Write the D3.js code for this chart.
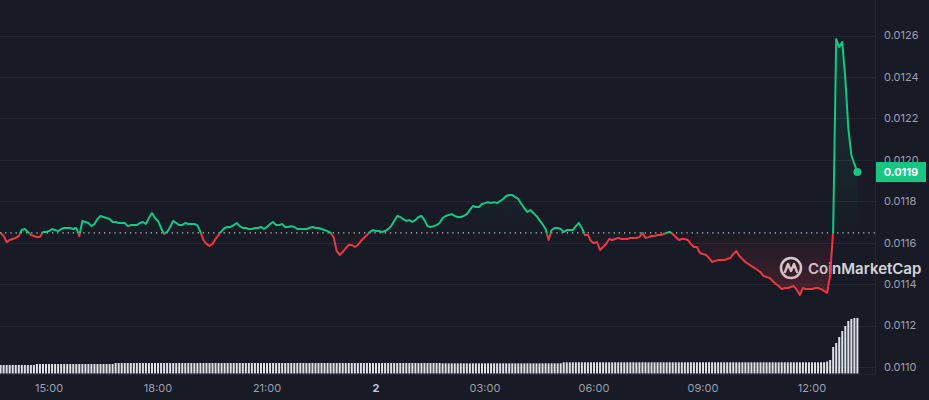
<!DOCTYPE html>
<html>
<head>
<meta charset="utf-8">
<script src="https://cdn.jsdelivr.net/npm/d3@7/dist/d3.min.js"></script>
<style>
html,body{margin:0;padding:0;background:#181a25;}
svg{display:block;}
text{font-family:Inter,"Noto Sans",sans-serif;}
</style>
</head>
<body>
<svg id="chart" width="929" height="400"></svg>
<script>
// ---------- DATA ----------
const startTime = "2024-08-01T13:40:00";   // first sample
const stepMinutes = 5;                       // sample interval
const openPrice = 0.011647;                  // reference (dotted) line

const prices = [
0.011647,0.011632,0.011603,0.011613,0.011618,0.011623,0.011632,0.011661,0.011666,0.011652,
0.011637,0.011632,0.011627,0.011627,0.011652,0.011652,0.011656,0.011666,0.011661,0.011656,
0.011666,0.011671,0.011671,0.011671,0.011666,0.011671,0.011632,0.011705,0.011700,0.011695,
0.011680,0.011690,0.011714,0.011729,0.011724,0.011719,0.011714,0.011700,0.011700,0.011695,
0.011695,0.011695,0.011680,0.011685,0.011685,0.011685,0.011695,0.011700,0.011690,0.011719,
0.011743,0.011719,0.011705,0.011671,0.011642,0.011652,0.011676,0.011705,0.011695,0.011685,
0.011685,0.011695,0.011690,0.011690,0.011690,0.011685,0.011652,0.011613,0.011594,0.011584,
0.011594,0.011618,0.011637,0.011656,0.011671,0.011676,0.011676,0.011685,0.011695,0.011680,
0.011671,0.011671,0.011666,0.011666,0.011671,0.011671,0.011676,0.011666,0.011676,0.011690,
0.011700,0.011685,0.011685,0.011690,0.011676,0.011676,0.011680,0.011676,0.011666,0.011666,
0.011666,0.011666,0.011671,0.011676,0.011671,0.011671,0.011666,0.011661,0.011656,0.011647,
0.011627,0.011560,0.011541,0.011555,0.011574,0.011589,0.011589,0.011579,0.011589,0.011608,
0.011623,0.011637,0.011652,0.011661,0.011656,0.011656,0.011652,0.011656,0.011666,0.011680,
0.011705,0.011729,0.011724,0.011714,0.011705,0.011709,0.011700,0.011709,0.011724,0.011729,
0.011709,0.011680,0.011676,0.011680,0.011685,0.011695,0.011719,0.011729,0.011734,0.011738,
0.011729,0.011724,0.011724,0.011729,0.011738,0.011758,0.011777,0.011772,0.011772,0.011787,
0.011791,0.011796,0.011791,0.011796,0.011791,0.011801,0.011811,0.011825,0.011830,0.011830,
0.011820,0.011811,0.011787,0.011767,0.011748,0.011758,0.011743,0.011729,0.011709,0.011690,
0.011666,0.011613,0.011661,0.011671,0.011671,0.011666,0.011652,0.011661,0.011661,0.011661,
0.011680,0.011695,0.011671,0.011637,0.011637,0.011608,0.011598,0.011603,0.011565,0.011579,
0.011594,0.011618,0.011613,0.011618,0.011623,0.011618,0.011618,0.011618,0.011623,0.011623,
0.011623,0.011627,0.011647,0.011623,0.011627,0.011632,0.011632,0.011637,0.011637,0.011642,
0.011647,0.011652,0.011642,0.011627,0.011613,0.011618,0.011618,0.011613,0.011594,0.011579,
0.011579,0.011550,0.011545,0.011541,0.011526,0.011507,0.011512,0.011516,0.011516,0.011516,
0.011521,0.011526,0.011545,0.011560,0.011536,0.011521,0.011507,0.011497,0.011487,0.011478,
0.011468,0.011458,0.011439,0.011434,0.011430,0.011415,0.011401,0.011391,0.011376,0.011381,
0.011381,0.011386,0.011391,0.011372,0.011348,0.011381,0.011376,0.011376,0.011376,0.011381,
0.011381,0.011376,0.011367,0.011357,0.011444,0.011661,0.012583,0.012544,0.012568,0.012395,
0.012153,0.012023,0.011980,0.011941
];

// rolling volume, millions USD
const volumes = [
1.70,1.70,1.70,1.70,1.70,1.70,1.70,1.70,1.70,1.70,1.70,1.70,
1.90,1.90,1.90,1.90,1.90,1.90,1.90,1.90,1.90,1.90,1.90,1.90,1.90,
1.90,1.90,1.90,1.90,1.90,1.90,1.90,1.90,1.90,1.90,1.90,1.90,1.90,
2.10,2.10,2.10,2.10,2.10,2.10,2.10,2.10,2.10,2.10,2.10,2.10,2.10,2.10,2.10,2.10,2.10,2.10,
2.10,2.10,2.10,2.10,2.10,2.10,2.10,2.10,2.10,2.10,2.10,2.10,2.10,2.10,2.10,2.10,2.10,2.10,
2.10,2.10,2.10,2.10,2.10,2.10,2.10,2.10,2.10,2.10,2.10,2.10,2.10,2.10,2.10,2.10,2.10,2.10,
2.10,2.10,2.10,2.10,2.10,2.10,2.10,2.10,2.10,2.10,2.10,2.10,2.10,2.10,2.10,2.10,2.10,2.10,
2.10,2.10,2.10,2.10,2.10,2.10,2.10,2.10,2.10,2.10,2.10,2.10,2.10,2.10,2.10,2.10,2.10,2.10,
2.10,2.10,2.10,2.10,2.10,2.10,2.10,2.10,2.10,2.10,2.10,2.10,2.10,2.10,2.10,2.10,2.10,2.10,
2.04,2.04,2.04,2.04,2.04,2.04,2.04,2.04,2.04,2.04,2.04,2.04,2.04,2.04,2.04,2.04,2.04,2.04,2.04,2.04,
2.04,2.04,2.04,2.04,2.04,2.04,2.04,2.04,2.04,2.04,2.04,2.04,2.04,2.04,2.04,2.04,2.04,2.04,2.04,2.04,
2.24,2.24,2.24,2.24,2.24,2.24,2.24,2.24,2.24,2.24,2.24,2.24,2.24,2.24,2.24,2.24,2.24,2.24,2.24,2.24,
2.24,2.24,2.24,2.24,2.24,2.24,2.24,2.24,2.24,2.24,2.24,2.24,2.24,2.24,2.24,2.24,2.24,2.24,2.24,2.24,
2.24,2.24,2.24,2.24,2.24,2.24,2.24,2.24,2.24,2.24,2.24,2.24,2.24,2.24,2.24,2.24,2.24,2.24,2.24,2.24,
2.24,2.24,2.24,2.24,2.24,2.24,2.24,2.24,2.24,2.24,2.24,2.24,2.24,2.24,2.24,2.24,2.24,2.24,2.24,2.24,
2.24,2.24,2.24,2.24,2.24,2.24,2.24,
2.40,2.70,5.30,6.10,7.30,8.50,9.50,10.50,10.90,11.10,11.10
];

const yTicks = [0.0110,0.0112,0.0114,0.0116,0.0118,0.0120,0.0122,0.0124,0.0126];
const xTickTimes = ["2024-08-01T15:00","2024-08-01T18:00","2024-08-01T21:00","2024-08-02T00:00",
                    "2024-08-02T03:00","2024-08-02T06:00","2024-08-02T09:00","2024-08-02T12:00"];
const xTickLabels = ["15:00","18:00","21:00","2","03:00","06:00","09:00","12:00"];
const lastLabel = "0.0119";
const brand = "CoinMarketCap";

// ---------- CHART ----------
const W = 929, H = 400;
const plotRight = 875, volBase = 373.5;
const green = "#16c784", red = "#ea3943";

const t0 = new Date(startTime);
const data = prices.map((p, i) => ({
  t: new Date(t0.getTime() + i * stepMinutes * 60000),
  p: p, v: volumes[i]
}));
const tEnd = data[data.length - 1].t;

const x = d3.scaleTime().domain([t0, tEnd]).range([0.6, 857.4]);
const y = d3.scaleLinear().domain([0.0110, 0.0126]).range([367, 35.5]);
const yv = d3.scaleLinear().domain([0, 12]).range([volBase, volBase - 60]);

const svg = d3.select("#chart");
svg.append("rect").attr("width", W).attr("height", H).attr("fill", "#181a25");

const defs = svg.append("defs");
const yBase = y(openPrice);
const pMax = d3.max(prices), pMin = d3.min(prices);

const gG = defs.append("linearGradient").attr("id", "gGreen")
  .attr("gradientUnits", "userSpaceOnUse").attr("x1", 0).attr("x2", 0)
  .attr("y1", y(pMax)).attr("y2", yBase);
gG.append("stop").attr("offset", 0).attr("stop-color", green).attr("stop-opacity", 0.16);
gG.append("stop").attr("offset", 1).attr("stop-color", green).attr("stop-opacity", 0.01);
const gR = defs.append("linearGradient").attr("id", "gRed")
  .attr("gradientUnits", "userSpaceOnUse").attr("x1", 0).attr("x2", 0)
  .attr("y1", yBase).attr("y2", y(pMin));
gR.append("stop").attr("offset", 0).attr("stop-color", red).attr("stop-opacity", 0.01);
gR.append("stop").attr("offset", 1).attr("stop-color", red).attr("stop-opacity", 0.22);

defs.append("clipPath").attr("id", "clipUp").append("rect")
  .attr("x", 0).attr("y", 0).attr("width", plotRight).attr("height", yBase);
defs.append("clipPath").attr("id", "clipDown").append("rect")
  .attr("x", 0).attr("y", yBase).attr("width", plotRight).attr("height", H - yBase);

// grid
svg.append("g").selectAll("line").data(yTicks).join("line")
  .attr("x1", 0).attr("x2", plotRight)
  .attr("y1", d => Math.round(y(d)) + 0.5).attr("y2", d => Math.round(y(d)) + 0.5)
  .attr("stroke", "#242733").attr("stroke-width", 1);

// right axis line
svg.append("line").attr("x1", plotRight + 0.5).attr("x2", plotRight + 0.5)
  .attr("y1", 0).attr("y2", 374).attr("stroke", "#242733");
svg.append("line").attr("x1", 0).attr("x2", plotRight)
  .attr("y1", 374.5).attr("y2", 374.5).attr("stroke", "#242733");

// volume bars
svg.append("g").selectAll("rect").data(data).join("rect")
  .attr("x", d => x(d.t) - 1)
  .attr("width", 2)
  .attr("y", d => yv(d.v))
  .attr("height", d => volBase - yv(d.v))
  .attr("fill", "#dde0e8");

// watermark
const wm = svg.append("g").attr("transform", "translate(791,268)").attr("opacity", 0.88);
wm.append("circle").attr("r", 10).attr("fill", "none").attr("stroke", "#eceef2").attr("stroke-width", 2.6);
wm.append("path").attr("d", "M-6,4 L-3,-4 L0,3 L3,-4 L6,4")
  .attr("fill", "none").attr("stroke", "#eceef2").attr("stroke-width", 2.4)
  .attr("stroke-linejoin", "round").attr("stroke-linecap", "round");
wm.append("text").attr("x", 17).attr("y", 5.5).attr("font-size", 15).attr("font-weight", 600)
  .attr("fill", "#eceef2").text(brand);

// areas
const area = d3.area().x(d => x(d.t)).y0(yBase).y1(d => y(d.p));
svg.append("path").datum(data).attr("d", area).attr("fill", "url(#gGreen)").attr("clip-path", "url(#clipUp)");
svg.append("path").datum(data).attr("d", area).attr("fill", "url(#gRed)").attr("clip-path", "url(#clipDown)");

// dotted open line
svg.append("line").attr("x1", 0).attr("x2", plotRight)
  .attr("y1", yBase).attr("y2", yBase)
  .attr("stroke", "#c8ccd6").attr("stroke-width", 1.2).attr("stroke-dasharray", "1.2,4");

// price line
const line = d3.line().x(d => x(d.t)).y(d => y(d.p));
svg.append("path").datum(data).attr("d", line).attr("fill", "none")
  .attr("stroke", green).attr("stroke-width", 2).attr("stroke-linejoin", "round")
  .attr("clip-path", "url(#clipUp)");
svg.append("path").datum(data).attr("d", line).attr("fill", "none")
  .attr("stroke", red).attr("stroke-width", 2).attr("stroke-linejoin", "round")
  .attr("clip-path", "url(#clipDown)");

// last point
const last = data[data.length - 1];
svg.append("circle").attr("cx", x(last.t)).attr("cy", y(last.p)).attr("r", 4).attr("fill", green);

// y axis labels
svg.append("g").selectAll("text").data(yTicks).join("text")
  .attr("x", 884).attr("y", d => y(d)).attr("dy", "0.35em")
  .attr("font-size", 11).attr("fill", "#9aa0b1")
  .text(d => d.toFixed(4));

// last price badge
svg.append("rect").attr("x", 876).attr("y", y(last.p) - 10).attr("width", 50).attr("height", 20)
  .attr("fill", green);
svg.append("text").attr("x", 901).attr("y", y(last.p)).attr("dy", "0.35em")
  .attr("text-anchor", "middle").attr("font-size", 11).attr("font-weight", 700)
  .attr("fill", "#ffffff").text(lastLabel);

// x axis labels
svg.append("g").selectAll("text").data(xTickTimes).join("text")
  .attr("x", d => x(new Date(d))).attr("y", 388).attr("dy", "0.35em")
  .attr("text-anchor", "middle").attr("font-size", 11)
  .attr("font-weight", (d, i) => xTickLabels[i] === "2" ? 700 : 400)
  .attr("fill", (d, i) => xTickLabels[i] === "2" ? "#c4c8d3" : "#9aa0b1")
  .text((d, i) => xTickLabels[i]);
</script>
</body>
</html>
